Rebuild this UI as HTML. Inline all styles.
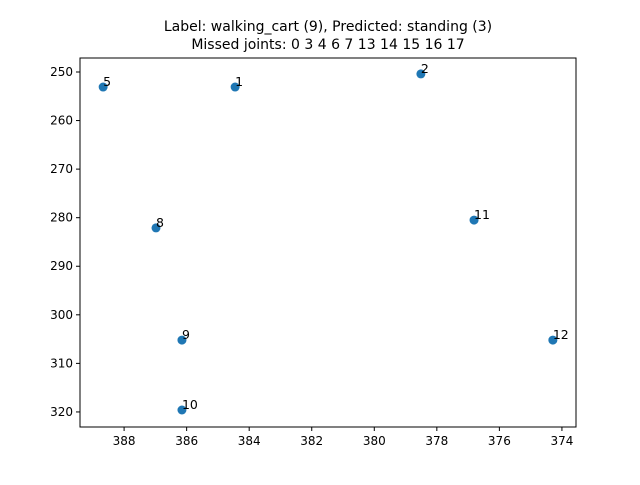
<!DOCTYPE html>
<html><head><meta charset="utf-8"><style>
body{margin:0;background:#fff;}
svg{font-family:"DejaVu Sans","Liberation Sans",sans-serif;}
</style></head><body>
<svg id="chart" width="640" height="480">
<rect width="640" height="480" fill="#fff"/>
<text x="328" y="31" text-anchor="middle" font-size="14">Label: walking_cart (9), Predicted: standing (3)</text>
<text x="328" y="49" text-anchor="middle" font-size="14">Missed joints: 0 3 4 6 7 13 14 15 16 17</text>
<g id="plot"></g>
<rect x="80" y="58" width="496" height="369" fill="none" stroke="#000" stroke-width="1"/>
</svg>
<script>
const labels=["5","1","2","8","11","9","12","10"];
const xs=[388.67,384.45,378.51,386.98,376.81,386.15,374.29,386.15];
const ys=[253.1,253.1,250.4,282.1,280.5,305.2,305.2,319.6];
const xTicks=[388,386,384,382,380,378,376,374];
const yTicks=[250,260,270,280,290,300,310,320];
const L=80,R=576,T=58,B=427;
const xMin=389.41,xMax=373.55,yMin=247.12,yMax=323.1;
const sx=v=>L+(v-xMin)/(xMax-xMin)*(R-L);
const sy=v=>T+(v-yMin)/(yMax-yMin)*(B-T);
const g=document.getElementById('plot');
const NS='http://www.w3.org/2000/svg';
function mk(t,a){const e=document.createElementNS(NS,t);for(const k in a)e.setAttribute(k,a[k]);g.appendChild(e);return e;}
xTicks.forEach(v=>{
 const l=mk('line',{x1:sx(v),x2:sx(v),y1:B,y2:B+4,stroke:'#000'});
 
 
 const t=mk('text',{x:sx(v),y:B+18,'text-anchor':'middle','font-size':'12'});t.textContent=v;
 
 
});
yTicks.forEach(v=>{
 const l=mk('line',{x1:L-4,x2:L,y1:sy(v),y2:sy(v),stroke:'#000'});
 
 
 const t=mk('text',{x:L-7,y:sy(v)+4,'text-anchor':'end','font-size':'12'});t.textContent=v;
 
 
});
xs.forEach((v,i)=>{
 const c=mk('circle',{cx:sx(v),cy:sy(ys[i]),r:4.5,fill:'#1f77b4'});
 
 
 const t=mk('text',{x:sx(v),y:sy(ys[i])-1,'font-size':'12.5'});t.textContent=labels[i];
 
 
});
</script>
</body></html>
